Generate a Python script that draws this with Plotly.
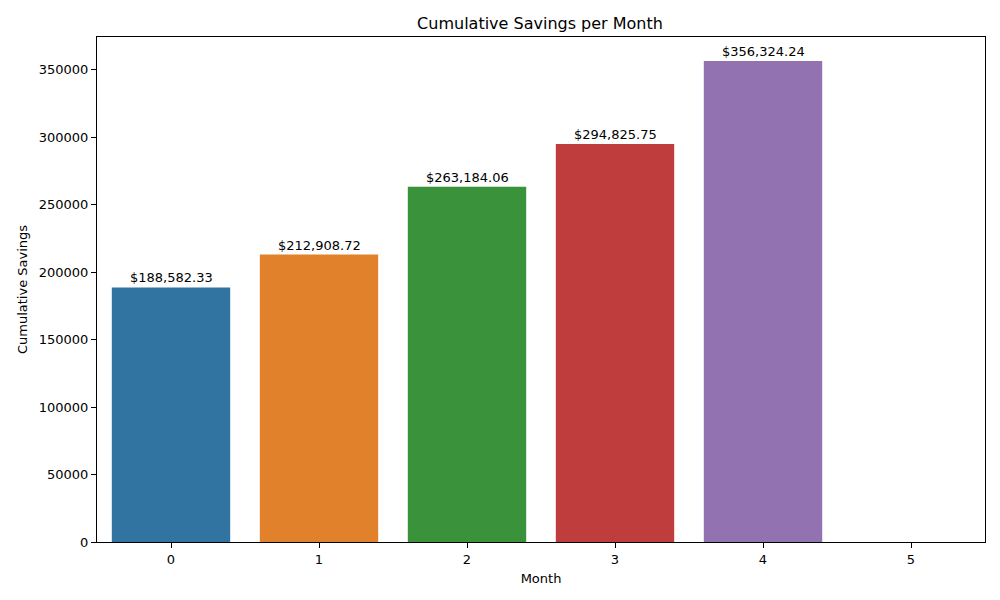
import plotly.graph_objects as go

months = [0, 1, 2, 3, 4, 5]
savings = [188582.33, 212908.72, 263184.06, 294825.75, 356324.24, 0]
colors = ["#3274a1", "#e1812c", "#3a923a", "#c03d3e", "#9372b2", "#845b53"]
y_ticks = [0, 50000, 100000, 150000, 200000, 250000, 300000, 350000]

font = "DejaVu Sans"
W, H = 992, 592
fig = go.Figure()
fig.add_trace(go.Bar(x=months, y=savings, marker=dict(color=colors, line=dict(width=0)),
                     width=0.8, hoverinfo="x+y"))

for m, v in zip(months[:5], savings[:5]):
    fig.add_annotation(x=m, y=v, text=f"${v:,.2f}", showarrow=False,
                       yanchor="bottom", yshift=0,
                       font=dict(family=font, size=13, color="black"))

axis_common = dict(showline=True, linecolor="black", linewidth=1, mirror=True,
                   ticks="outside", ticklen=5, tickwidth=1, tickcolor="black",
                   showgrid=False, zeroline=False,
                   tickfont=dict(family=font, size=13, color="black"))

fig.update_layout(
    width=W, height=H,
    paper_bgcolor="white", plot_bgcolor="white",
    margin=dict(l=89, r=15, t=29, b=58),
    title=dict(text="Cumulative Savings per Month", x=532 / W, xanchor="center",
               y=1 - 15 / H, yanchor="middle",
               font=dict(family=font, size=16, color="black")),
    xaxis=dict(range=[-0.5, 5.5], tickvals=months, ticktext=[str(m) for m in months],
               title=dict(text="Month", font=dict(family=font, size=13, color="black"), standoff=8),
               **axis_common),
    yaxis=dict(range=[0, 356324.24 * 1.05], tickvals=y_ticks,
               ticktext=[str(t) for t in y_ticks],
               title=dict(text="Cumulative Savings", font=dict(family=font, size=13, color="black"), standoff=8),
               **axis_common),
    showlegend=False,
)

fig.write_html("out.html")
